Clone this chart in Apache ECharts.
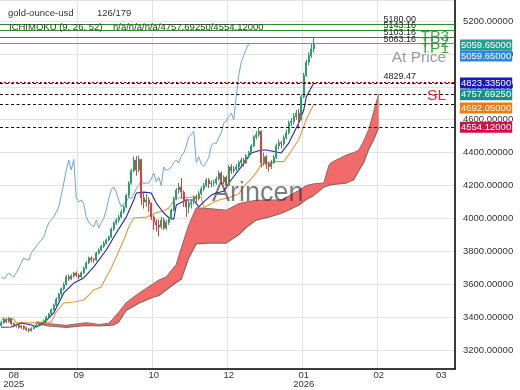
<!DOCTYPE html>
<html><head><meta charset="utf-8">
<script src="https://cdn.jsdelivr.net/npm/echarts@6/dist/echarts.min.js"></script>
<style>html,body{margin:0;padding:0;background:#fff}#c{width:520px;height:390px}</style>
</head><body><div id="c"></div>
<script>
// ---------- data ----------
const N_SLOTS = 182;
const tickIdx = [5, 31, 61, 91, 121, 151, 176];
const tickText = ['08\n2025', '09', '10', '12', '01\n2026', '02', '03'];
const gridIdx = [31, 61, 91, 121, 151];
const yMin = 3084.5, yMax = 5327.7;

// [open, close, low, high]
const candles = [
[3350,3365,3342,3378],[3365,3385,3358,3398],[3385,3372,3362,3392],[3372,3392,3366,3402],[3392,3360,3352,3396],
[3360,3345,3338,3368],[3345,3352,3336,3360],[3352,3338,3330,3358],[3338,3346,3328,3352],[3346,3332,3322,3350],
[3332,3325,3315,3340],[3325,3318,3308,3334],[3318,3330,3312,3338],[3330,3345,3324,3350],[3345,3352,3336,3360],
[3352,3362,3344,3370],[3362,3358,3348,3372],[3358,3378,3352,3386],[3378,3400,3372,3408],[3400,3418,3392,3426],
[3418,3445,3410,3452],[3445,3472,3438,3482],[3472,3510,3465,3520],[3510,3540,3500,3548],[3540,3572,3530,3580],
[3572,3600,3562,3610],[3600,3645,3592,3655],[3645,3632,3620,3658],[3632,3650,3625,3660],[3650,3668,3640,3675],
[3668,3655,3642,3678],[3655,3644,3630,3664],[3644,3670,3638,3678],[3670,3698,3662,3706],[3698,3730,3690,3740],
[3730,3759,3722,3768],[3759,3750,3735,3770],[3750,3747,3730,3762],[3747,3790,3740,3798],[3790,3808,3780,3818],
[3808,3830,3800,3840],[3830,3850,3820,3862],[3850,3869,3840,3878],[3869,3887,3860,3896],[3887,3935,3880,3945],
[3935,3972,3925,3980],[3972,3990,3960,4000],[3990,4008,3975,4022],[4008,4040,4000,4055],[4040,4069,4030,4080],
[4069,4140,4062,4150],[4140,4215,4130,4225],[4215,4290,4205,4300],[4290,4355,4280,4375],[4355,4294,4260,4378],
[4294,4358,4280,4381],[4358,4125,4082,4362],[4125,4100,4060,4160],[4100,4112,4070,4150],[4112,4090,4040,4130],
[4090,4008,3990,4098],[4008,3978,3930,4020],[3978,3960,3920,3995],[3960,3948,3890,3990],[3948,3990,3935,4010],
[3990,3941,3928,4005],[3941,3975,3930,3990],[3975,4000,3960,4012],[4000,4051,3990,4060],[4051,4120,4045,4130],
[4120,4173,4110,4185],[4173,4191,4150,4215],[4191,4160,4120,4245],[4160,4110,4070,4170],[4110,4069,4007.69,4120],
[4069,4090,4030,4105],[4090,4100,4060,4115],[4100,4130,4085,4140],[4130,4120,4095,4145],[4120,4150,4110,4165],
[4150,4180,4140,4195],[4180,4200,4165,4215],[4200,4233,4190,4245],[4233,4210,4185,4245],[4210,4215,4190,4230],
[4215,4215,4195,4235],[4215,4240,4205,4255],[4240,4276,4230,4290],[4276,4221,4205,4285],[4221,4250,4210,4262],
[4250,4200,4180,4260],[4200,4313,4195,4325],[4313,4290,4270,4330],[4290,4300,4275,4320],[4300,4313,4285,4330],
[4313,4340,4300,4352],[4340,4355,4320,4370],[4355,4337,4315,4368],[4337,4380,4330,4392],[4380,4398,4365,4410],
[4398,4440,4390,4452],[4440,4495,4432,4505],[4495,4510,4480,4530],[4510,4530,4495,4550],[4530,4340,4310,4535],
[4340,4375,4320,4400],[4375,4330,4300,4385],[4330,4315,4283.55,4345],[4315,4340,4300,4355],[4340,4370,4330,4385],
[4370,4440,4360,4455],[4440,4460,4420,4480],[4460,4455,4425,4470],[4455,4490,4440,4505],[4490,4520,4480,4540],
[4520,4580,4510,4595],[4580,4590,4560,4610],[4590,4620,4570,4640],[4620,4640,4600,4660],[4640,4600,4546.12,4665],
[4600,4740,4595,4755],[4740,4870,4730,4885],[4870,4950,4860,4965],[4950,4990,4930,5010],[4990,5030,4975,5060],
[5030,5059.65,5010,5100.55]
];

// [bar index, value]
const tenkan = [[0,3338],[4,3340],[8,3364],[12,3352],[14,3340],[17,3362],[21,3425],[25,3547],[29,3607],[33,3638],
[37,3705],[42,3808],[46,3911],[50,4008],[53,4112],[54,4154],[57,4160],[60,4154],[62,4093],[65,4033],[67,4005],
[69,3995],[70,4081],[74,4112],[77,4112],[79,4070],[81,4100],[84,4142],[86,4154],[89,4165],[92,4235],[96,4313],
[100,4398],[104,4416],[106,4416],[110,4404],[112,4398],[115,4458],[117,4519],[119,4580],[121,4659],[122,4738],[125,4823.335]];

const kijun = [[0,3388],[5,3388],[6,3365],[19,3365],[20,3372],[22,3431],[25,3486],[29,3492],[33,3504],[35,3534],
[37,3565],[40,3583],[42,3644],[44,3698],[46,3765],[49,3869],[51,3948],[53,4002],[58,4008],[62,4035],[65,4045],
[67,4063],[70,4124],[77,4130],[80,4130],[81,4065],[84,4090],[87,4112],[91,4125],[95,4150],[97,4195],[100,4240],
[103,4300],[104,4330],[110,4345],[113,4345],[116,4410],[119,4480],[122,4600],[125,4692.05]];

const cloudIdx = [14,19,26,34,39,43,45,47,50,55,61,63,66,70,72,75,78,83,90,95,98,102,107,112,119,122,125,129,131,132,138,141,143,145,147,149,151];
const senkouA  = [3372,3360,3350,3366,3355,3362,3395,3430,3488,3545,3605,3625,3645,3720,3820,3960,4065,4060,4050,4090,4100,4110,4112,4112,4170,4200,4210,4215,4320,4340,4385,4400,4415,4470,4540,4650,4757.69];
const senkouB  = [3362,3346,3338,3350,3346,3350,3352,3370,3440,3485,3522,3530,3565,3610,3630,3760,3845,3850,3850,3900,3945,3990,4008,4030,4080,4115,4140,4190,4200,4205,4215,4235,4290,4340,4420,4480,4554.12];
const chikouShift = 26;

const tpValues = [5180.00, 5143.16, 5103.16];
const tpNames = ['TP3', 'TP2', 'TP1'];
const entryValue = 5063.16;
const slValue = 4829.47;
const dashedLevels = [4823.335, 4757.6925, 4692.05, 4554.12];
const tagValues = [5059.65, 5059.65, 4823.335, 4757.6925, 4692.05, 4554.12];

// ---------- chart ----------
const FONT = '"Liberation Sans", Arial, sans-serif';
const chart = echarts.init(document.getElementById('c'), null, {renderer: 'canvas'});
const cats = Array.from({length: N_SLOTS}, (_, i) => i);
const chikou = candles.slice(chikouShift).map((c, k) => [k, c[1]]);

const NOLINE = {color: 'rgba(0,0,0,0)', width: 0};
const tagColors = ['#1fa18c', '#2f86e0', '#1717c0', '#168f88', '#f07a10', '#d21048'];
const tagOffsets = [1, 12, 0, 1, 3.5, 0];

const ml = [];
tpValues.forEach((v, k) => {
  ml.push({yAxis: v, lineStyle: {color: '#2e8b2e', width: 1, type: 'solid'},
    label: {show: true, position: 'insideEndTop', distance: 1, offset: [-38, 1], formatter: v.toFixed(2),
      color: '#222', fontSize: 9, fontFamily: FONT}});
  ml.push({yAxis: v, lineStyle: NOLINE,
    label: {show: true, position: 'insideEndBottom', distance: 4, offset: [-2, 0], formatter: tpNames[k],
      color: 'rgba(40,150,40,0.85)', fontSize: 15.5, fontFamily: FONT}});
});
ml.push({yAxis: entryValue, lineStyle: {color: '#888', width: 1, type: 'solid'},
  label: {show: true, position: 'insideEndTop', distance: 1, offset: [-38, 1], formatter: entryValue.toFixed(2),
    color: '#222', fontSize: 9, fontFamily: FONT}});
ml.push({yAxis: entryValue, lineStyle: NOLINE,
  label: {show: true, position: 'insideEndBottom', distance: 6, offset: [-3, 0], formatter: 'At Price',
    color: '#9a9a9a', fontSize: 15.5, fontFamily: FONT}});
dashedLevels.forEach(v => {
  ml.push({yAxis: v, lineStyle: {color: '#111', width: 1, type: [3, 2.5]}, label: {show: false}});
});
ml.push({yAxis: slValue, lineStyle: {color: '#b00000', width: 1.2, type: [2, 2]},
  label: {show: true, position: 'insideEndTop', distance: 1, offset: [-38, 0], formatter: slValue.toFixed(2),
    color: '#222', fontSize: 9, fontFamily: FONT}});
ml.push({yAxis: slValue, lineStyle: NOLINE,
  label: {show: true, position: 'insideEndBottom', distance: 6, offset: [-3, 0], formatter: 'SL',
    color: '#e02828', fontSize: 15.5, fontFamily: FONT}});
tagValues.forEach((v, k) => {
  ml.push({yAxis: v, lineStyle: NOLINE,
    label: {show: true, position: 'end', distance: 5, offset: [0, tagOffsets[k]], formatter: v.toFixed(5),
      color: '#fff', backgroundColor: tagColors[k], padding: [1, 1, 0, 1], fontSize: 9.5, fontFamily: FONT}});
});

const option = {
  animation: false,
  backgroundColor: '#fff',
  grid: {left: 0, right: 65, top: 0, bottom: 21, containLabel: false},
  xAxis: {
    type: 'category', data: cats, boundaryGap: true,
    axisLine: {show: true, onZero: false, lineStyle: {color: '#000', width: 1.5}},
    axisTick: {show: false},
    axisLabel: {
      interval: (i) => tickIdx.includes(i),
      formatter: (v, i) => { const k = tickIdx.indexOf(Number(v)); return k >= 0 ? tickText[k] : ''; },
      color: '#333', fontSize: 9.5, fontFamily: FONT, margin: 2, lineHeight: 9
    },
    splitLine: {show: true, interval: (i) => gridIdx.includes(i), lineStyle: {color: '#e2e2e2', width: 1}}
  },
  yAxis: {
    type: 'value', position: 'right', min: yMin, max: yMax, splitNumber: 10, scale: true,
    axisLine: {show: true, lineStyle: {color: '#000', width: 1.5}},
    axisTick: {show: false},
    axisLabel: {color: '#333', fontSize: 9.5, fontFamily: FONT, margin: 8, showMinLabel: false, showMaxLabel: false,
      formatter: (v) => v.toFixed(5)},
    splitLine: {show: true, lineStyle: {color: '#e2e2e2', width: 1}}
  },
  series: [
    {
      type: 'custom', name: 'cloud', z: 1, silent: true, clip: true,
      data: [[0, 3300]],
      renderItem: (params, api) => {
        const pts = [];
        for (let k = 0; k < cloudIdx.length; k++) pts.push(api.coord([cloudIdx[k], senkouA[k]]));
        for (let k = cloudIdx.length - 1; k >= 0; k--) pts.push(api.coord([cloudIdx[k], senkouB[k]]));
        return {type: 'polygon', shape: {points: pts}, style: {fill: '#f26a6a'}};
      }
    },
    {type: 'line', name: 'senkouA', z: 2, symbol: 'none', data: cloudIdx.map((i, k) => [i, senkouA[k]]),
      lineStyle: {color: '#8a6a60', width: 1}},
    {type: 'line', name: 'senkouB', z: 2, symbol: 'none', data: cloudIdx.map((i, k) => [i, senkouB[k]]),
      lineStyle: {color: '#8a6a60', width: 1.2}},
    {type: 'line', name: 'chikou', z: 3, symbol: 'none', data: chikou, lineStyle: {color: '#6aa6dc', width: 1}},
    {type: 'line', name: 'kijun', z: 3, symbol: 'none', data: kijun, lineStyle: {color: '#dc9a48', width: 1.1}},
    {type: 'line', name: 'tenkan', z: 3, symbol: 'none', data: tenkan, lineStyle: {color: '#2424a8', width: 1.1}},
    {
      type: 'candlestick', name: 'price', z: 4, data: candles, barWidth: 1.6,
      itemStyle: {color: '#2b9e6c', color0: '#d84040', borderColor: '#2b9e6c', borderColor0: '#d84040', borderWidth: 1},
      markLine: {silent: true, symbol: ['none', 'none'], animation: false, precision: 5, data: ml}
    }
  ],
  graphic: [
    {type: 'text', left: 8, top: 8, z: 50, style: {text: 'gold-ounce-usd', fill: '#333', font: '9.5px ' + FONT}},
    {type: 'text', left: 97, top: 8, z: 50, style: {text: '126/179', fill: '#333', font: '9.5px ' + FONT}},
    {type: 'text', left: 9, top: 22, z: 50, style: {text: 'ICHIMOKU (9, 26, 52)', fill: '#333', font: '9.5px ' + FONT}},
    {type: 'text', left: 113, top: 22, z: 50, style: {text: 'n/a/n/a/n/a/4757.69250/4554.12000', fill: '#333', font: '9.5px ' + FONT}},
    {type: 'text', left: 212, top: 180, z: 60, style: {text: 'Arincen', fill: 'rgba(45,45,45,0.62)', font: '27px ' + FONT}}
  ]
};
chart.setOption(option);
</script>
</body></html>
